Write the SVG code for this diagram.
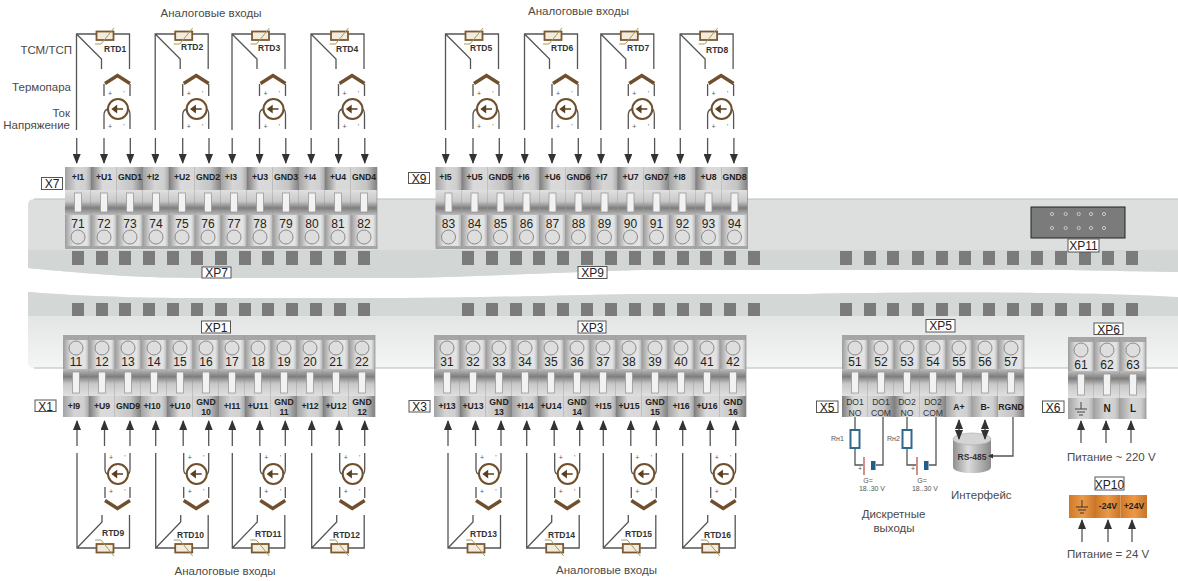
<svg xmlns="http://www.w3.org/2000/svg" width="1178" height="581" viewBox="0 0 1178 581">
<style>
text{font-family:"Liberation Sans",Arial,sans-serif;fill:#333}
.cap{font-size:11.5px;fill:#4a4a4a}
.capm{font-size:11.5px;fill:#4a4a4a;text-anchor:middle}
.rgt{font-size:11.5px;fill:#4a4a4a;text-anchor:end}
.lab{font-size:8.7px;font-weight:bold;text-anchor:middle;fill:#222}
.lab2{font-size:8.6px;text-anchor:middle;fill:#333}
.big{font-size:10px;font-weight:bold;text-anchor:middle;fill:#222}
.num{font-size:12px;text-anchor:middle;fill:#222}
.rtd{font-size:8.5px;font-weight:bold;fill:#333}
.tag{font-size:12px;text-anchor:middle;fill:#222}
.tagb{fill:#fff;stroke:#555;stroke-width:1}
.sm{font-size:7px;fill:#555}
.smm{font-size:7px;fill:#555;text-anchor:middle}
.pm{font-size:7px;fill:#555;text-anchor:middle}
.w{fill:none;stroke:#555;stroke-width:1.3}
.a{fill:none;stroke:#555;stroke-width:1.3;marker-end:url(#arr)}
.d{fill:none;stroke:#555;stroke-width:1.3;marker-start:url(#arr);marker-end:url(#arr)}
.sq{fill:#7b7b7b}
.li{fill:url(#gi)}.lu{fill:url(#gu)}.lg{fill:url(#gg)}
.pin{fill:none;stroke:#c8c8c8;stroke-width:1}
</style>
<defs>
<marker id="arr" markerUnits="userSpaceOnUse" markerWidth="10" markerHeight="8" refX="9" refY="4" orient="auto-start-reverse"><path d="M0 0L10 4L0 8z" fill="#333"/></marker>
<marker id="arrm" markerUnits="userSpaceOnUse" markerWidth="5" markerHeight="5" refX="4" refY="2.5" orient="auto"><path d="M0 0L5 2.500L0 5z" fill="#333"/></marker>
<linearGradient id="gi"><stop offset="0" stop-color="#a2a2a2"/><stop offset=".45" stop-color="#d6d6d6"/><stop offset=".8" stop-color="#cfcfcf"/><stop offset="1" stop-color="#a8a8a8"/></linearGradient>
<linearGradient id="gu"><stop offset="0" stop-color="#7c7c7c"/><stop offset=".45" stop-color="#dadada"/><stop offset="1" stop-color="#d8d8d8"/></linearGradient>
<linearGradient id="gg"><stop offset="0" stop-color="#d6d6d6"/><stop offset=".6" stop-color="#c4c4c4"/><stop offset="1" stop-color="#808080"/></linearGradient>
<linearGradient id="gn"><stop offset="0" stop-color="#9c9c9c"/><stop offset=".3" stop-color="#dedede"/><stop offset=".85" stop-color="#e4e4e4"/><stop offset="1" stop-color="#b0b0b0"/></linearGradient>
<linearGradient id="gs" x2="0" y2="1"><stop offset="0" stop-color="#e0e0e0"/><stop offset=".45" stop-color="#c8c8c8"/><stop offset=".72" stop-color="#7e7e7e"/><stop offset="1" stop-color="#bcbcbc"/></linearGradient>
<linearGradient id="gs2" x2="0" y2="1"><stop offset="0" stop-color="#bcbcbc"/><stop offset=".28" stop-color="#7e7e7e"/><stop offset=".55" stop-color="#c8c8c8"/><stop offset="1" stop-color="#e0e0e0"/></linearGradient>
<linearGradient id="gr" x2="0" y2="1"><stop offset="0" stop-color="#dcdfde"/><stop offset="1" stop-color="#f4f5f5"/></linearGradient>
<linearGradient id="gc"><stop offset="0" stop-color="#8f8f8f"/><stop offset=".4" stop-color="#dcdcdc"/><stop offset="1" stop-color="#8a8a8a"/></linearGradient>
<linearGradient id="go"><stop offset="0" stop-color="#d07a28"/><stop offset=".5" stop-color="#ec9a48"/><stop offset="1" stop-color="#c8742a"/></linearGradient>
<g id="ct">
<rect y="23" width="26" height="25" fill="url(#gs)"/>
<rect x="9.5" y="26" width="7" height="19" fill="#f2f2f2" stroke="#999" stroke-width=".8"/>
<rect y="48" width="26" height="31" fill="url(#gn)"/>
<rect y="79" width="26" height="3" fill="#a6a6a6"/>
<circle cx="13" cy="70" r="7" fill="#dedede" stroke="#8a8a8a"/>
<path d="M26 0V82" stroke="#8c8c8c" stroke-width=".7"/>
</g>
<g id="cb">
<rect width="26" height="5" fill="#a6a6a6"/>
<rect y="5" width="26" height="29" fill="url(#gn)"/>
<circle cx="13" cy="13" r="7" fill="#dedede" stroke="#8a8a8a"/>
<rect y="34" width="26" height="27" fill="url(#gs2)"/>
<rect x="9.5" y="37" width="7" height="21" fill="#f2f2f2" stroke="#999" stroke-width=".8"/>
<path d="M26 0V82" stroke="#8c8c8c" stroke-width=".7"/>
</g>
<g id="res"><rect x="96.5" y="31.5" width="17" height="8.5" fill="#f3ebdd" stroke="#7a5a35" stroke-width="1.8"/><path d="M95 44H101L114 28" fill="none" stroke="#a99a55" stroke-width="1"/></g>
<g id="res2"><rect x="96.5" y="544" width="17" height="8.5" fill="#f3ebdd" stroke="#7a5a35" stroke-width="1.8"/><path d="M95 540H101L114 556" fill="none" stroke="#a99a55" stroke-width="1"/></g>
<g id="srcT">
<path d="M105 83.5L117.5 75.5L130 83.5" fill="none" stroke="#6f4f2c" stroke-width="3.4"/>
<circle cx="118" cy="109" r="10" fill="#fff" stroke="#6f4f2c" stroke-width="2"/>
<path d="M123 109H114M116.5 106L112.500 109L116.500 112z" fill="#5a3f20" stroke="#5a3f20" stroke-width="1.4"/>
<text class="pm" x="110" y="96">+</text><text class="pm" x="124" y="96">'</text>
<text class="pm" x="110" y="129">+</text><text class="pm" x="124" y="129">'</text>
</g>
<g id="srcB">
<path d="M105 500.500L117.500 508.500L130 500.500" fill="none" stroke="#6f4f2c" stroke-width="3.4"/>
<circle cx="118" cy="474" r="10" fill="#fff" stroke="#6f4f2c" stroke-width="2"/>
<path d="M123 474H114M116.500 471L112.500 474L116.500 477z" fill="#5a3f20" stroke="#5a3f20" stroke-width="1.400"/>
<text class="pm" x="111" y="460">+</text><text class="pm" x="125" y="460">'</text>
<text class="pm" x="111" y="494">+</text><text class="pm" x="125" y="494">'</text>
</g>
<g id="wT">
<path class="w" d="M76.500 130V34H129.500V69M76.500 34L101.500 59V69"/>
<path class="w" d="M104 96V84M130 96V84M104 129V115Q104 110 108 109M130 129V115Q130 110 128 109"/>
<path class="a" d="M76.700 138V163"/><path class="a" d="M104 138V163"/><path class="a" d="M130.300 138V163"/>
</g>
<g id="wB">
<path class="w" d="M77 453V548H129.500V515M77 548L102 522V515"/>
<path class="w" d="M105 498V487M130 498V487M105 453V469Q105 474 108 474M130 453V469Q130 474 128 474"/>
<path class="a" d="M77 446V421"/><path class="a" d="M104.500 446V421"/><path class="a" d="M130 446V421"/>
</g>
</defs>

<g id="rail-top">
<path d="M28 205Q28 199 34 199H1178V272C1130 272 1080 269 980 270H640C560 272 480 277 400 278H200C150 278 100 275 28 268z" fill="#dcdfde"/>
<path d="M28 250H1178V272C1130 272 1080 269 980 270H640C560 272 480 277 400 278H200C150 278 100 275 28 268z" fill="#d2d7d5"/>
<path d="M34 199H1178" stroke="#bdbdbd" fill="none"/>
<g class="sq">
<rect x="72" y="251" width="12" height="14"/><rect x="96" y="251" width="12" height="14"/><rect x="119" y="251" width="12" height="14"/><rect x="143" y="251" width="12" height="14"/><rect x="167" y="251" width="12" height="14"/><rect x="191" y="251" width="12" height="14"/><rect x="215" y="251" width="12" height="14"/><rect x="239" y="251" width="12" height="14"/><rect x="262" y="251" width="12" height="14"/><rect x="286" y="251" width="12" height="14"/><rect x="310" y="251" width="12" height="14"/><rect x="334" y="251" width="12" height="14"/><rect x="358" y="251" width="12" height="14"/>
<rect x="462" y="251" width="12" height="14"/><rect x="486" y="251" width="12" height="14"/><rect x="510" y="251" width="12" height="14"/><rect x="533" y="251" width="12" height="14"/><rect x="557" y="251" width="12" height="14"/><rect x="581" y="251" width="12" height="14"/><rect x="605" y="251" width="12" height="14"/><rect x="629" y="251" width="12" height="14"/><rect x="653" y="251" width="12" height="14"/><rect x="677" y="251" width="12" height="14"/><rect x="700" y="251" width="12" height="14"/><rect x="724" y="251" width="12" height="14"/><rect x="748" y="251" width="12" height="14"/>
<rect x="840" y="251" width="12" height="14"/><rect x="864" y="251" width="12" height="14"/><rect x="887" y="251" width="12" height="14"/><rect x="912" y="251" width="12" height="14"/><rect x="936" y="251" width="12" height="14"/><rect x="959" y="251" width="12" height="14"/><rect x="983" y="251" width="12" height="14"/><rect x="1007" y="251" width="12" height="14"/><rect x="1031" y="251" width="12" height="14"/><rect x="1055" y="251" width="12" height="14"/><rect x="1079" y="251" width="12" height="14"/><rect x="1102" y="251" width="12" height="14"/><rect x="1126" y="251" width="12" height="14"/>
</g>
</g>
<g id="rail-bottom">
<path d="M28 292C80 296 130 298 200 298H400C480 298 560 295 640 294H800C900 292 1080 291 1178 297V368H34Q28 368 28 362z" fill="url(#gr)"/>
<path d="M28 292C80 296 130 298 200 298H400C480 298 560 295 640 294H800C900 292 1080 291 1178 297V316H28z" fill="#d3d8d6"/>
<path d="M34 368H1178" stroke="#b8b8b8" fill="none"/>
<g class="sq">
<rect x="72" y="303" width="12" height="13"/><rect x="96" y="303" width="12" height="13"/><rect x="119" y="303" width="12" height="13"/><rect x="143" y="303" width="12" height="13"/><rect x="167" y="303" width="12" height="13"/><rect x="191" y="303" width="12" height="13"/><rect x="215" y="303" width="12" height="13"/><rect x="239" y="303" width="12" height="13"/><rect x="262" y="303" width="12" height="13"/><rect x="286" y="303" width="12" height="13"/><rect x="310" y="303" width="12" height="13"/><rect x="334" y="303" width="12" height="13"/><rect x="358" y="303" width="12" height="13"/>
<rect x="462" y="303" width="12" height="13"/><rect x="486" y="303" width="12" height="13"/><rect x="510" y="303" width="12" height="13"/><rect x="533" y="303" width="12" height="13"/><rect x="557" y="303" width="12" height="13"/><rect x="581" y="303" width="12" height="13"/><rect x="605" y="303" width="12" height="13"/><rect x="629" y="303" width="12" height="13"/><rect x="653" y="303" width="12" height="13"/><rect x="677" y="303" width="12" height="13"/><rect x="700" y="303" width="12" height="13"/><rect x="724" y="303" width="12" height="13"/><rect x="748" y="303" width="12" height="13"/>
<rect x="840" y="303" width="12" height="13"/><rect x="864" y="303" width="12" height="13"/><rect x="887" y="303" width="12" height="13"/><rect x="912" y="303" width="12" height="13"/><rect x="936" y="303" width="12" height="13"/><rect x="959" y="303" width="12" height="13"/><rect x="983" y="303" width="12" height="13"/><rect x="1007" y="303" width="12" height="13"/><rect x="1031" y="303" width="12" height="13"/><rect x="1055" y="303" width="12" height="13"/><rect x="1079" y="303" width="12" height="13"/><rect x="1102" y="303" width="12" height="13"/><rect x="1126" y="303" width="12" height="13"/>
</g>
</g>

<g id="XP11">
<rect x="1031" y="207" width="94" height="31" fill="#7b7b7b" stroke="#222" stroke-width="1"/>
<g class="pin"><circle cx="1052" cy="214" r="1.600"/><circle cx="1065.700" cy="214" r="1.600"/><circle cx="1078.700" cy="214" r="1.600"/><circle cx="1091" cy="214" r="1.600"/><circle cx="1104" cy="214" r="1.600"/><circle cx="1052" cy="228" r="1.600"/><circle cx="1065.700" cy="228" r="1.600"/><circle cx="1078.700" cy="228" r="1.600"/><circle cx="1091" cy="228" r="1.600"/><circle cx="1104" cy="228" r="1.600"/></g>
<rect class="tagb" x="1068" y="239" width="31" height="13"/><text class="tag" x="1083.500" y="250">XP11</text>
</g>

<g id="X7">
<g id="t71" transform="translate(65,167)"><rect class="li" width="26" height="23"/><use href="#ct"/><text class="lab" x="13" y="13">+I1</text><text class="num" x="13" y="61">71</text></g>
<g id="t72" transform="translate(91,167)"><rect class="lu" width="26" height="23"/><use href="#ct"/><text class="lab" x="13" y="13">+U1</text><text class="num" x="13" y="61">72</text></g>
<g id="t73" transform="translate(117,167)"><rect class="lg" width="26" height="23"/><use href="#ct"/><text class="lab" x="13" y="13">GND1</text><text class="num" x="13" y="61">73</text></g>
<g id="t74" transform="translate(143,167)"><rect class="li" width="26" height="23"/><use href="#ct"/><text class="lab" x="10" y="13">+I2</text><text class="num" x="13" y="61">74</text></g>
<g id="t75" transform="translate(169,167)"><rect class="lu" width="26" height="23"/><use href="#ct"/><text class="lab" x="13" y="13">+U2</text><text class="num" x="13" y="61">75</text></g>
<g id="t76" transform="translate(195,167)"><rect class="lg" width="26" height="23"/><use href="#ct"/><text class="lab" x="13" y="13">GND2</text><text class="num" x="13" y="61">76</text></g>
<g id="t77" transform="translate(221,167)"><rect class="li" width="26" height="23"/><use href="#ct"/><text class="lab" x="10" y="13">+I3</text><text class="num" x="13" y="61">77</text></g>
<g id="t78" transform="translate(247,167)"><rect class="lu" width="26" height="23"/><use href="#ct"/><text class="lab" x="13" y="13">+U3</text><text class="num" x="13" y="61">78</text></g>
<g id="t79" transform="translate(273,167)"><rect class="lg" width="26" height="23"/><use href="#ct"/><text class="lab" x="13" y="13">GND3</text><text class="num" x="13" y="61">79</text></g>
<g id="t80" transform="translate(299,167)"><rect class="li" width="26" height="23"/><use href="#ct"/><text class="lab" x="11" y="13">+I4</text><text class="num" x="13" y="61">80</text></g>
<g id="t81" transform="translate(325,167)"><rect class="lu" width="26" height="23"/><use href="#ct"/><text class="lab" x="13" y="13">+U4</text><text class="num" x="13" y="61">81</text></g>
<g id="t82" transform="translate(351,167)"><rect class="lg" width="26" height="23"/><use href="#ct"/><text class="lab" x="13" y="13">GND4</text><text class="num" x="13" y="61">82</text></g>
<rect class="tagb" x="41.500" y="177.500" width="21" height="12"/><text class="tag" x="52" y="188">X7</text>
</g>
<g id="X9">
<g id="t83" transform="translate(435.500,167)"><rect class="li" width="26" height="23"/><use href="#ct"/><text class="lab" x="10" y="13">+I5</text><text class="num" x="13" y="61">83</text></g>
<g id="t84" transform="translate(461.500,167)"><rect class="lu" width="26" height="23"/><use href="#ct"/><text class="lab" x="13" y="13">+U5</text><text class="num" x="13" y="61">84</text></g>
<g id="t85" transform="translate(487.500,167)"><rect class="lg" width="26" height="23"/><use href="#ct"/><text class="lab" x="13" y="13">GND5</text><text class="num" x="13" y="61">85</text></g>
<g id="t86" transform="translate(513.500,167)"><rect class="li" width="26" height="23"/><use href="#ct"/><text class="lab" x="10" y="13">+I6</text><text class="num" x="13" y="61">86</text></g>
<g id="t87" transform="translate(539.500,167)"><rect class="lu" width="26" height="23"/><use href="#ct"/><text class="lab" x="13" y="13">+U6</text><text class="num" x="13" y="61">87</text></g>
<g id="t88" transform="translate(565.500,167)"><rect class="lg" width="26" height="23"/><use href="#ct"/><text class="lab" x="13" y="13">GND6</text><text class="num" x="13" y="61">88</text></g>
<g id="t89" transform="translate(591.500,167)"><rect class="li" width="26" height="23"/><use href="#ct"/><text class="lab" x="10" y="13">+I7</text><text class="num" x="13" y="61">89</text></g>
<g id="t90" transform="translate(617.500,167)"><rect class="lu" width="26" height="23"/><use href="#ct"/><text class="lab" x="13" y="13">+U7</text><text class="num" x="13" y="61">90</text></g>
<g id="t91" transform="translate(643.500,167)"><rect class="lg" width="26" height="23"/><use href="#ct"/><text class="lab" x="13" y="13">GND7</text><text class="num" x="13" y="61">91</text></g>
<g id="t92" transform="translate(669.500,167)"><rect class="li" width="26" height="23"/><use href="#ct"/><text class="lab" x="10" y="13">+I8</text><text class="num" x="13" y="61">92</text></g>
<g id="t93" transform="translate(695.500,167)"><rect class="lu" width="26" height="23"/><use href="#ct"/><text class="lab" x="13" y="13">+U8</text><text class="num" x="13" y="61">93</text></g>
<g id="t94" transform="translate(721.500,167)"><rect class="lg" width="26" height="23"/><use href="#ct"/><text class="lab" x="13" y="13">GND8</text><text class="num" x="13" y="61">94</text></g>
<rect class="tagb" x="408.500" y="172.500" width="21" height="11"/><text class="tag" x="419" y="183">X9</text>
</g>
<g id="X1">
<g id="t11" transform="translate(63,335)"><rect class="li" y="61" width="26" height="21"/><use href="#cb"/><text class="lab" x="11" y="74">+I9</text><text class="num" x="13" y="31">11</text></g>
<g id="t12" transform="translate(89,335)"><rect class="lu" y="61" width="26" height="21"/><use href="#cb"/><text class="lab" x="13" y="74">+U9</text><text class="num" x="13" y="31">12</text></g>
<g id="t13" transform="translate(115,335)"><rect class="lg" y="61" width="26" height="21"/><use href="#cb"/><text class="lab" x="13" y="74">GND9</text><text class="num" x="13" y="31">13</text></g>
<g id="t14" transform="translate(141,335)"><rect class="li" y="61" width="26" height="21"/><use href="#cb"/><text class="lab" x="11" y="74">+I10</text><text class="num" x="13" y="31">14</text></g>
<g id="t15" transform="translate(167,335)"><rect class="lu" y="61" width="26" height="21"/><use href="#cb"/><text class="lab" x="13" y="74">+U10</text><text class="num" x="13" y="31">15</text></g>
<g id="t16" transform="translate(193,335)"><rect class="lg" y="61" width="26" height="21"/><use href="#cb"/><text class="lab" x="13" y="70">GND</text><text class="lab" x="13" y="80">10</text><text class="num" x="13" y="31">16</text></g>
<g id="t17" transform="translate(219,335)"><rect class="li" y="61" width="26" height="21"/><use href="#cb"/><text class="lab" x="13" y="74">+I11</text><text class="num" x="13" y="31">17</text></g>
<g id="t18" transform="translate(245,335)"><rect class="lu" y="61" width="26" height="21"/><use href="#cb"/><text class="lab" x="13" y="74">+U11</text><text class="num" x="13" y="31">18</text></g>
<g id="t19" transform="translate(271,335)"><rect class="lg" y="61" width="26" height="21"/><use href="#cb"/><text class="lab" x="13" y="70">GND</text><text class="lab" x="13" y="80">11</text><text class="num" x="13" y="31">19</text></g>
<g id="t20" transform="translate(297,335)"><rect class="li" y="61" width="26" height="21"/><use href="#cb"/><text class="lab" x="13" y="74">+I12</text><text class="num" x="13" y="31">20</text></g>
<g id="t21" transform="translate(323,335)"><rect class="lu" y="61" width="26" height="21"/><use href="#cb"/><text class="lab" x="13" y="74">+U12</text><text class="num" x="13" y="31">21</text></g>
<g id="t22" transform="translate(349,335)"><rect class="lg" y="61" width="26" height="21"/><use href="#cb"/><text class="lab" x="13" y="70">GND</text><text class="lab" x="13" y="80">12</text><text class="num" x="13" y="31">22</text></g>
<rect class="tagb" x="35" y="400" width="21" height="11.500"/><text class="tag" x="45.500" y="410.500">X1</text>
</g>
<g id="X3">
<g id="t31" transform="translate(434,335)"><rect class="li" y="61" width="26" height="21"/><use href="#cb"/><text class="lab" x="13" y="74">+I13</text><text class="num" x="13" y="31">31</text></g>
<g id="t32" transform="translate(460,335)"><rect class="lu" y="61" width="26" height="21"/><use href="#cb"/><text class="lab" x="13" y="74">+U13</text><text class="num" x="13" y="31">32</text></g>
<g id="t33" transform="translate(486,335)"><rect class="lg" y="61" width="26" height="21"/><use href="#cb"/><text class="lab" x="13" y="70">GND</text><text class="lab" x="13" y="80">13</text><text class="num" x="13" y="31">33</text></g>
<g id="t34" transform="translate(512,335)"><rect class="li" y="61" width="26" height="21"/><use href="#cb"/><text class="lab" x="13" y="74">+I14</text><text class="num" x="13" y="31">34</text></g>
<g id="t35" transform="translate(538,335)"><rect class="lu" y="61" width="26" height="21"/><use href="#cb"/><text class="lab" x="13" y="74">+U14</text><text class="num" x="13" y="31">35</text></g>
<g id="t36" transform="translate(564,335)"><rect class="lg" y="61" width="26" height="21"/><use href="#cb"/><text class="lab" x="13" y="70">GND</text><text class="lab" x="13" y="80">14</text><text class="num" x="13" y="31">36</text></g>
<g id="t37" transform="translate(590,335)"><rect class="li" y="61" width="26" height="21"/><use href="#cb"/><text class="lab" x="13" y="74">+I15</text><text class="num" x="13" y="31">37</text></g>
<g id="t38" transform="translate(616,335)"><rect class="lu" y="61" width="26" height="21"/><use href="#cb"/><text class="lab" x="13" y="74">+U15</text><text class="num" x="13" y="31">38</text></g>
<g id="t39" transform="translate(642,335)"><rect class="lg" y="61" width="26" height="21"/><use href="#cb"/><text class="lab" x="13" y="70">GND</text><text class="lab" x="13" y="80">15</text><text class="num" x="13" y="31">39</text></g>
<g id="t40" transform="translate(668,335)"><rect class="li" y="61" width="26" height="21"/><use href="#cb"/><text class="lab" x="13" y="74">+I16</text><text class="num" x="13" y="31">40</text></g>
<g id="t41" transform="translate(694,335)"><rect class="lu" y="61" width="26" height="21"/><use href="#cb"/><text class="lab" x="13" y="74">+U16</text><text class="num" x="13" y="31">41</text></g>
<g id="t42" transform="translate(720,335)"><rect class="lg" y="61" width="26" height="21"/><use href="#cb"/><text class="lab" x="13" y="70">GND</text><text class="lab" x="13" y="80">16</text><text class="num" x="13" y="31">42</text></g>
<rect class="tagb" x="409" y="400.500" width="21" height="11.500"/><text class="tag" x="419.500" y="411">X3</text>
</g>
<g id="X5">
<g id="t51" transform="translate(842,335)"><rect class="lu" y="61" width="26" height="21"/><use href="#cb"/><text class="lab2" x="13" y="70">DO1</text><text class="lab2" x="13" y="81">NO</text><text class="num" x="13" y="31">51</text></g>
<g id="t52" transform="translate(868,335)"><rect class="lg" y="61" width="26" height="21"/><use href="#cb"/><text class="lab2" x="13" y="70">DO1</text><text class="lab2" x="13" y="81">COM</text><text class="num" x="13" y="31">52</text></g>
<g id="t53" transform="translate(894,335)"><rect class="lu" y="61" width="26" height="21"/><use href="#cb"/><text class="lab2" x="13" y="70">DO2</text><text class="lab2" x="13" y="81">NO</text><text class="num" x="13" y="31">53</text></g>
<g id="t54" transform="translate(920,335)"><rect class="lg" y="61" width="26" height="21"/><use href="#cb"/><text class="lab2" x="13" y="70">DO2</text><text class="lab2" x="13" y="81">COM</text><text class="num" x="13" y="31">54</text></g>
<g id="t55" transform="translate(946,335)"><rect class="li" y="61" width="26" height="21"/><use href="#cb"/><text class="lab" x="13" y="75">A+</text><text class="num" x="13" y="31">55</text></g>
<g id="t56" transform="translate(972,335)"><rect class="li" y="61" width="26" height="21"/><use href="#cb"/><text class="lab" x="13" y="75">B-</text><text class="num" x="13" y="31">56</text></g>
<g id="t57" transform="translate(998,335)"><rect class="lg" y="61" width="26" height="21"/><use href="#cb"/><text class="lab" x="13" y="75">RGND</text><text class="num" x="13" y="31">57</text></g>
<rect class="tagb" x="816.500" y="401" width="21.500" height="11.500"/><text class="tag" x="827" y="411.500">X5</text>
</g>
<g id="X6">
<g id="t61" transform="translate(1068,337)"><rect class="li" y="61" width="26" height="21"/><use href="#cb"/><path d="M13 65V72M7 72H19M9 75H17M11 78H15" fill="none" stroke="#444" stroke-width="1"/><text class="num" x="13" y="32">61</text></g>
<g id="t62" transform="translate(1094,337)"><rect class="li" y="61" width="26" height="21"/><use href="#cb"/><text class="big" x="13" y="75">N</text><text class="num" x="13" y="32">62</text></g>
<g id="t63" transform="translate(1120,337)"><rect class="li" y="61" width="26" height="21"/><use href="#cb"/><text class="big" x="13" y="75">L</text><text class="num" x="13" y="32">63</text></g>
<rect class="tagb" x="1042.500" y="401" width="21.500" height="11.500"/><text class="tag" x="1053" y="411.500">X6</text>
</g>
<g id="XP10-block">
<rect x="1069" y="495" width="27" height="23" fill="url(#go)"/><rect x="1096" y="495" width="24.500" height="23" fill="url(#go)"/><rect x="1120.500" y="495" width="26.500" height="23" fill="url(#go)"/>
<path d="M1082 500V507M1076 507H1088M1078 510H1086M1080 513H1084" fill="none" stroke="#333" stroke-width="1"/>
<text class="lab" x="1108" y="509">-24V</text><text class="lab" x="1134" y="509">+24V</text>
<rect class="tagb" x="1095" y="477" width="29" height="13"/><text class="tag" x="1109.500" y="488.500">XP10</text>
</g>
<g id="rail-tags">
<rect class="tagb" x="202" y="267" width="29" height="11"/><text class="tag" x="216.500" y="277">XP7</text>
<rect class="tagb" x="578" y="266.500" width="29" height="12"/><text class="tag" x="592.500" y="277">XP9</text>
<rect class="tagb" x="201.500" y="321" width="29" height="12"/><text class="tag" x="216" y="331.500">XP1</text>
<rect class="tagb" x="578" y="321" width="28" height="12"/><text class="tag" x="592" y="331.500">XP3</text>
<rect class="tagb" x="926" y="319.500" width="29" height="12.500"/><text class="tag" x="940.500" y="330">XP5</text>
<rect class="tagb" x="1094" y="323" width="29" height="11.500"/><text class="tag" x="1108.500" y="333.500">XP6</text>
</g>

<g id="RS485">
<path d="M953 439V467C953 475 991 475 991 467V439z" fill="url(#gc)"/>
<ellipse cx="972" cy="439" rx="19" ry="6" fill="#d4d4d4" stroke="#aaa" stroke-width=".6"/>
<text x="972" y="460" font-size="8.500" font-weight="bold" text-anchor="middle" fill="#333">RS-485</text>
</g>

<g id="connectors">
<use href="#wT"/><use href="#wT" x="78.700"/><use href="#wT" x="155.500"/><use href="#wT" x="234.500"/>
<use href="#wT" x="369"/><use href="#wT" x="448"/><use href="#wT" x="524.300"/><use href="#wT" x="603.600"/>
<use href="#wB"/><use href="#wB" x="78.700"/><use href="#wB" x="155.300"/><use href="#wB" x="234.700"/>
<use href="#wB" x="371"/><use href="#wB" x="449.700"/><use href="#wB" x="526.300"/><use href="#wB" x="605.700"/>
<path class="a" d="M1081 443V421"/><path class="a" d="M1106 443V421"/><path class="a" d="M1131 443V421"/>
<path class="a" d="M1082 542V520"/><path class="a" d="M1108 542V520"/><path class="a" d="M1132 542V520"/>
<path class="w" d="M855 417V430M855 448V465H863M876 465H883V417"/>
<path class="w" d="M907 417V430M907 448V465H916M929 465H936V417"/>
<path class="d" d="M959 420V439"/>
<path class="d" d="M985 420V439"/>
<path class="w" d="M1013 417V456H989" style="marker-end:url(#arrm)"/>
</g>

<g id="captions">
<text class="capm" x="211" y="17">Аналоговые входы</text>
<text class="capm" x="578.500" y="15">Аналоговые входы</text>
<text class="capm" x="225" y="575">Аналоговые входы</text>
<text class="capm" x="606.500" y="574">Аналоговые входы</text>
<text class="rgt" x="72" y="54">ТСМ/ТСП</text>
<text class="rgt" x="71" y="91">Термопара</text>
<text class="rgt" x="70" y="117">Ток</text>
<text class="rgt" x="70" y="129">Напряжение</text>
<text class="cap" x="1067" y="461">Питание ~ 220 V</text>
<text class="cap" x="1067" y="558">Питание = 24 V</text>
<text class="cap" x="951" y="499">Интерфейс</text>
<text class="capm" x="893.500" y="518">Дискретные</text>
<text class="capm" x="894" y="532">выходы</text>
</g>

<g id="RTD1"><use href="#res"/><use href="#srcT"/><text class="rtd" x="104" y="52">RTD1</text></g>
<g id="RTD2"><use href="#res" x="78.700"/><use href="#srcT" x="78.700"/><text class="rtd" x="181" y="50">RTD2</text></g>
<g id="RTD3"><use href="#res" x="155.500"/><use href="#srcT" x="155.500"/><text class="rtd" x="258" y="51">RTD3</text></g>
<g id="RTD4"><use href="#res" x="234.500"/><use href="#srcT" x="234.500"/><text class="rtd" x="336" y="52">RTD4</text></g>
<g id="RTD5"><use href="#res" x="369"/><use href="#srcT" x="369"/><text class="rtd" x="470" y="51">RTD5</text></g>
<g id="RTD6"><use href="#res" x="448"/><use href="#srcT" x="448"/><text class="rtd" x="551" y="51">RTD6</text></g>
<g id="RTD7"><use href="#res" x="524.300"/><use href="#srcT" x="524.300"/><text class="rtd" x="627" y="51">RTD7</text></g>
<g id="RTD8"><use href="#res" x="603.600"/><use href="#srcT" x="603.600"/><text class="rtd" x="706" y="53">RTD8</text></g>
<g id="RTD9"><use href="#res2"/><use href="#srcB"/><text class="rtd" x="102" y="536">RTD9</text></g>
<g id="RTD10"><use href="#res2" x="78.700"/><use href="#srcB" x="78.700"/><text class="rtd" x="177" y="538">RTD10</text></g>
<g id="RTD11"><use href="#res2" x="155.300"/><use href="#srcB" x="155.300"/><text class="rtd" x="255" y="537">RTD11</text></g>
<g id="RTD12"><use href="#res2" x="234.700"/><use href="#srcB" x="234.700"/><text class="rtd" x="333" y="538">RTD12</text></g>
<g id="RTD13"><use href="#res2" x="371"/><use href="#srcB" x="371"/><text class="rtd" x="470" y="537">RTD13</text></g>
<g id="RTD14"><use href="#res2" x="449.700"/><use href="#srcB" x="449.700"/><text class="rtd" x="548" y="538">RTD14</text></g>
<g id="RTD15"><use href="#res2" x="526.300"/><use href="#srcB" x="526.300"/><text class="rtd" x="625" y="537">RTD15</text></g>
<g id="RTD16"><use href="#res2" x="605.700"/><use href="#srcB" x="605.700"/><text class="rtd" x="704" y="538">RTD16</text></g>

<g id="Rn1">
<rect x="850.500" y="430" width="9" height="18" fill="#fff" stroke="#2e6a8e" stroke-width="2"/>
<text class="sm" x="831" y="441">Rн1</text>
<path d="M864 457V475" stroke="#b5443a" stroke-width="1.200"/><rect x="871" y="461" width="4.500" height="9" fill="#1f5f8a"/>
<text class="smm" x="860" y="471">+</text><text class="smm" x="868" y="483">G=</text><text class="smm" x="872" y="491">18..30 V</text>
</g>
<g id="Rn2">
<rect x="902.500" y="430" width="9" height="18" fill="#fff" stroke="#2e6a8e" stroke-width="2"/>
<text class="sm" x="887" y="441">Rн2</text>
<path d="M917 457V475" stroke="#b5443a" stroke-width="1.200"/><rect x="924" y="461" width="4.500" height="9" fill="#1f5f8a"/>
<text class="smm" x="913" y="471">+</text><text class="smm" x="922" y="483">G=</text><text class="smm" x="925" y="491">18..30 V</text>
</g>
</svg>
